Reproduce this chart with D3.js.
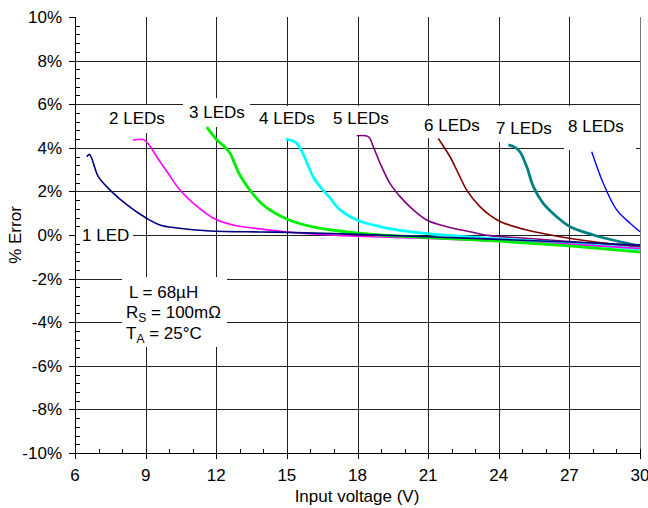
<!DOCTYPE html>
<html><head><meta charset="utf-8">
<script src="https://cdn.jsdelivr.net/npm/d3@7"></script>
<style>
body{margin:0;background:#fff;}
svg{display:block;font-family:Arial,"Liberation Sans",sans-serif;}
</style></head>
<body>
<svg id="chart" width="648" height="508"></svg>
<script>
// ---- data ----
const xTicks = [6, 9, 12, 15, 18, 21, 24, 27, 30];
const yTicks = [-10, -8, -6, -4, -2, 0, 2, 4, 6, 8, 10];

const led1V = [6.50, 6.61, 6.71, 6.85, 6.99, 7.49, 8.21, 9.02, 9.61, 10.33, 11.73, 13.86, 15, 18, 21, 24, 27, 30];
const led1E = [3.59, 3.70, 3.52, 3.06, 2.68, 2.06, 1.38, 0.78, 0.46, 0.32, 0.18, 0.14, 0.12, 0.03, -0.08, -0.2, -0.32, -0.46];

const led2V = [8.46, 8.89, 9.1, 9.48, 9.91, 10.46, 11.01, 11.86, 12.71, 13.86, 15.0, 16.83, 18, 21, 24, 27, 30];
const led2E = [4.36, 4.38, 4.2, 3.58, 2.9, 2.06, 1.47, 0.78, 0.46, 0.28, 0.14, 0.0, -0.06, -0.16, -0.28, -0.42, -0.62];

const led3V = [11.6, 12.03, 12.37, 12.58, 13.0, 13.43, 13.99, 15.0, 16.1, 17.55, 18.96, 21, 24, 27, 30];
const led3E = [4.95, 4.36, 4.04, 3.76, 2.75, 2.06, 1.38, 0.73, 0.37, 0.14, 0.0, -0.12, -0.28, -0.5, -0.78];

const led4V = [14.96, 15.35, 15.56, 15.86, 16.15, 16.54, 16.83, 17.26, 17.98, 18.96, 19.68, 21.08, 24, 27, 30];
const led4E = [4.4, 4.27, 4.0, 3.3, 2.6, 2.06, 1.7, 1.15, 0.69, 0.38, 0.23, 0.05, -0.18, -0.38, -0.64];

const led5V = [17.97, 18.46, 18.67, 18.96, 19.38, 19.81, 20.37, 20.94, 21.79, 22.78, 23.63, 25, 27, 30];
const led5E = [4.55, 4.51, 4.05, 3.29, 2.37, 1.76, 1.15, 0.69, 0.38, 0.15, -0.03, -0.14, -0.3, -0.55];

const led6V = [21.43, 21.93, 22.28, 22.64, 23.2, 23.63, 24.1, 25.19, 26.6, 28.02, 30];
const led6E = [4.43, 3.59, 2.83, 2.06, 1.3, 0.9, 0.6, 0.23, -0.08, -0.31, -0.54];

const led7V = [24.41, 24.69, 24.9, 25.19, 25.47, 25.89, 26.46, 27.03, 28.02, 29.15, 30];
const led7E = [4.13, 4.02, 3.82, 3.13, 2.22, 1.45, 0.84, 0.38, 0.0, -0.31, -0.5];

const led8V = [27.95, 28.44, 29.01, 29.58, 30];
const led8E = [3.82, 2.37, 1.15, 0.54, 0.15];

const seriesNames = ["1 LED", "2 LEDs", "3 LEDs", "4 LEDs", "5 LEDs", "6 LEDs", "7 LEDs", "8 LEDs"];
const seriesColors = ["#000080", "#ff00ff", "#00ee00", "#00ffff", "#800080", "#800000", "#008080", "#0000ff"];
const seriesWidths = [1.6, 1.6, 2.8, 2.8, 1.6, 1.6, 2.8, 1.4];
const seriesV = [led1V, led2V, led3V, led4V, led5V, led6V, led7V, led8V];
const seriesE = [led1E, led2E, led3E, led4E, led5E, led6E, led7E, led8E];

const annotation = ["L = 68µH", "R|S| = 100mΩ", "T|A| = 25°C"];

// ---- layout ----
const L = 75, R = 640, T = 17, B = 453;
const FS = 17;
const svg = d3.select("#chart");
const x = d3.scaleLinear().domain([6, 30]).range([L, R]);
const y = d3.scaleLinear().domain([-10, 10]).range([B, T]);

// grid
const grid = svg.append("g").attr("shape-rendering", "crispEdges");
grid.selectAll("line.v").data(xTicks.slice(1)).enter().append("line")
  .attr("x1", d => Math.round(x(d)) + 0.5).attr("x2", d => Math.round(x(d)) + 0.5)
  .attr("y1", T).attr("y2", B).attr("stroke", d => d === 30 ? "#777" : "#222").attr("stroke-width", 1);
grid.selectAll("line.h").data(yTicks.filter(d => d > -10 && d < 10)).enter().append("line")
  .attr("x1", L).attr("x2", R).attr("y1", d => Math.round(y(d)) + 0.5).attr("y2", d => Math.round(y(d)) + 0.5)
  .attr("stroke", "#222").attr("stroke-width", 1);

// label background boxes (cover gridlines)
const boxes = [
  {x0: 76, x1: 133, y0: 226, y1: 245, tx: 82, ty: 241},
  {x0: 107, x1: 188, y0: 105, y1: 133, tx: 109, ty: 124},
  {x0: 183, x1: 250, y0: 98, y1: 127, tx: 189, ty: 118},
  {x0: 252, x1: 324, y0: 106, y1: 138, tx: 259, ty: 124},
  {x0: 326, x1: 397, y0: 106, y1: 135, tx: 333, ty: 124},
  {x0: 418, x1: 490, y0: 106, y1: 138, tx: 424, ty: 131},
  {x0: 490, x1: 562, y0: 106, y1: 142, tx: 496, ty: 134},
  {x0: 564, x1: 636, y0: 106, y1: 150, tx: 568, ty: 132}
];
svg.append("g").selectAll("rect").data(boxes).enter().append("rect")
  .attr("x", d => d.x0).attr("y", d => d.y0).attr("width", d => d.x1 - d.x0).attr("height", d => d.y1 - d.y0)
  .attr("fill", "#fff");
svg.append("rect").attr("x", 122).attr("y", 277).attr("width", 105).attr("height", 70).attr("fill", "#fff");

// axes
const axL = svg.append("g").attr("shape-rendering", "crispEdges");
axL.append("line").attr("x1", L + 0.5).attr("x2", L + 0.5).attr("y1", T).attr("y2", B + 0.5).attr("stroke", "#000");
const yMinor = d3.range(-10, 10.001, 0.4).filter(v => Math.abs(Math.round(v / 2) * 2 - v) > 0.01);
axL.selectAll("line.mi").data(yMinor).enter().append("line")
  .attr("x1", L).attr("x2", L + 5).attr("y1", d => Math.round(y(d)) + 0.5).attr("y2", d => Math.round(y(d)) + 0.5).attr("stroke", "#000");
axL.selectAll("line.ma").data(yTicks).enter().append("line")
  .attr("x1", L - 6).attr("x2", L + 1).attr("y1", d => Math.round(y(d)) + 0.5).attr("y2", d => Math.round(y(d)) + 0.5).attr("stroke", "#000");
axL.selectAll("text").data(yTicks).enter().append("text")
  .attr("x", 62).attr("y", d => y(d) + 6).attr("text-anchor", "end").attr("font-size", FS).text(d => d + "%");

const axB = svg.append("g").attr("shape-rendering", "crispEdges");
axB.append("line").attr("x1", L).attr("x2", R + 1).attr("y1", B + 0.5).attr("y2", B + 0.5).attr("stroke", "#000");
const xMinor = d3.range(7, 30, 1).filter(v => v % 3 !== 0);
axB.selectAll("line.mi").data(xMinor).enter().append("line")
  .attr("x1", d => Math.round(x(d)) + 0.5).attr("x2", d => Math.round(x(d)) + 0.5).attr("y1", B - 4).attr("y2", B).attr("stroke", "#000");
axB.selectAll("line.ma").data(xTicks).enter().append("line")
  .attr("x1", d => Math.round(x(d)) + 0.5).attr("x2", d => Math.round(x(d)) + 0.5).attr("y1", B - 4).attr("y2", B + 6).attr("stroke", "#000");
axB.selectAll("text").data(xTicks).enter().append("text")
  .attr("x", d => x(d)).attr("y", 481).attr("text-anchor", "middle").attr("font-size", FS).text(d => d);

svg.append("text").attr("x", 357).attr("y", 502).attr("text-anchor", "middle").attr("font-size", FS).text("Input voltage (V)");
svg.append("text").attr("transform", "translate(21,235) rotate(-90)").attr("text-anchor", "middle").attr("font-size", FS).text("% Error");

// lines
const line = d3.line().x(d => x(d[0])).y(d => y(d[1])).curve(d3.curveCatmullRom.alpha(0.5));
const drawOrder = [7, 6, 5, 4, 3, 1, 2, 0];
const gl = svg.append("g");
drawOrder.forEach(i => {
  const pts = seriesV[i].map((v, k) => [v, seriesE[i][k]]);
  gl.append("path").attr("d", line(pts)).attr("fill", "none")
    .attr("stroke", seriesColors[i]).attr("stroke-width", seriesWidths[i]).attr("stroke-linejoin", "round");
});

// label texts
svg.append("g").selectAll("text").data(boxes).enter().append("text")
  .attr("x", d => d.tx).attr("y", d => d.ty).attr("font-size", FS).text((d, i) => seriesNames[i]);

// annotation
const ann = svg.append("g").attr("font-size", FS);
const annY = [298, 318, 339];
const annX = [129, 126, 126];
annotation.forEach((s, i) => {
  const parts = s.split("|");
  const t = ann.append("text").attr("x", annX[i]).attr("y", annY[i]);
  t.append("tspan").text(parts[0]);
  if (parts.length > 1) {
    t.append("tspan").attr("font-size", 12).attr("dy", 4).text(parts[1]);
    t.append("tspan").attr("dy", -4).text(parts[2]);
  }
});
</script>
</body></html>
